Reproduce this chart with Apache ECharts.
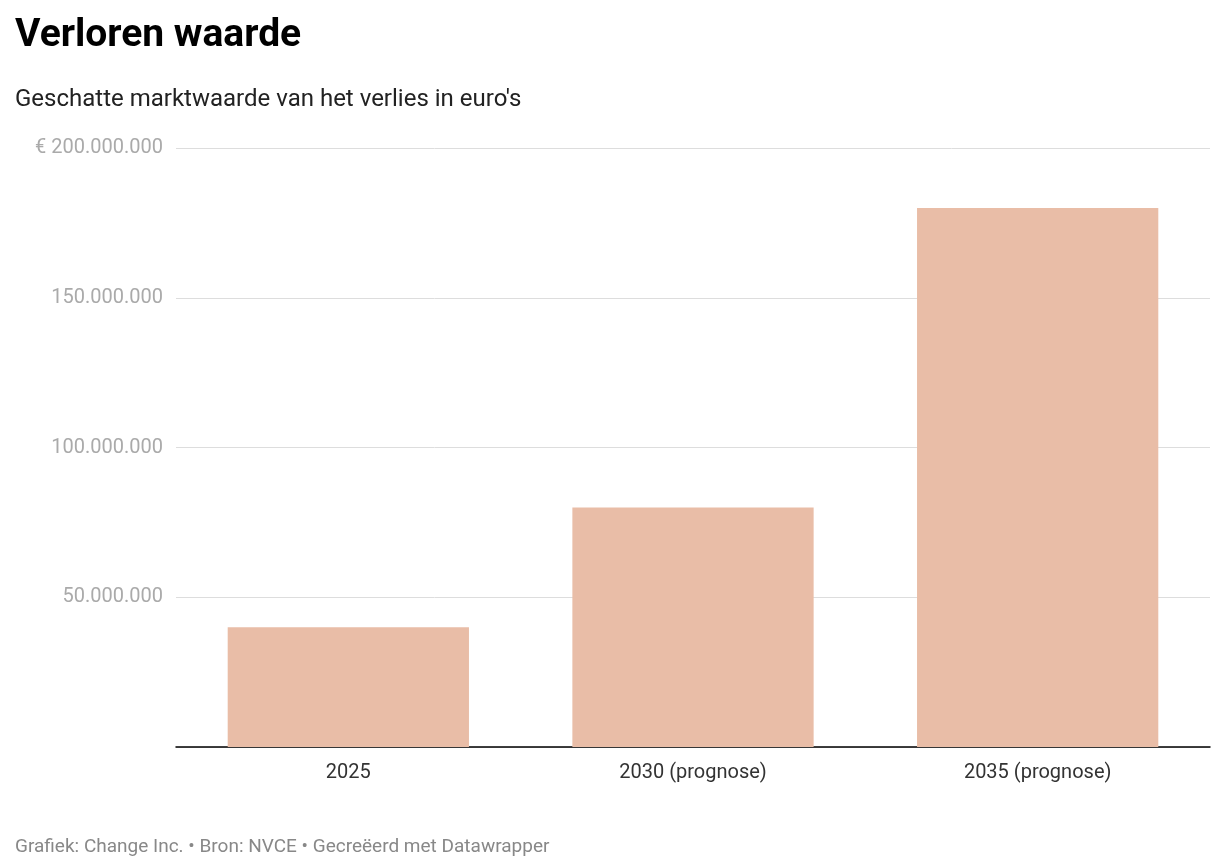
<!DOCTYPE html>
<html>
<head>
<meta charset="utf-8">
<script src="https://cdn.jsdelivr.net/npm/echarts@6/dist/echarts.min.js"></script>
<style>
  html, body { margin: 0; padding: 0; background: #fff; }
  #chart { width: 1220px; height: 868px; }
</style>
</head>
<body>
<div id="chart"></div>
<script>
const categories = ['2025', '2030 (prognose)', '2035 (prognose)'];
const values = [40000000, 80000000, 180000000];
const yTicks = [0, 50000000, 100000000, 150000000, 200000000];

function fmt(v) {
    if (v === 0) return '';
    const s = String(v).replace(/\B(?=(\d{3})+(?!\d))/g, '.');
    return v === yTicks[yTicks.length - 1] ? '€ ' + s : s;
}

const chart = echarts.init(document.getElementById('chart'));
chart.setOption({
    animation: false,
    textStyle: {fontFamily: 'Roboto'},
    title: [
        {text: 'Verloren waarde', left: 10, top: 12,
            textStyle: {fontSize: 39, fontWeight: 'bold', color: '#000', fontFamily: 'Roboto'}},
        {text: "Geschatte marktwaarde van het verlies in euro's", left: 10, top: 83,
            textStyle: {fontSize: 24, fontWeight: 'normal', color: '#222', fontFamily: 'Roboto'}},
        {text: 'Grafiek: Change Inc. • Bron: NVCE • Gecreëerd met Datawrapper', left: 10, top: 833,
            textStyle: {fontSize: 19, fontWeight: 'normal', color: '#888', fontFamily: 'Roboto'}},
    ],
    grid: {left: 176, right: 10, top: 148, bottom: 121, containLabel: false},
    xAxis: {
        type: 'category',
        data: categories,
        axisLine: {lineStyle: {color: '#000', width: 1.5}},
        axisTick: {show: false},
        axisLabel: {fontSize: 20, color: '#333', margin: 16},
    },
    yAxis: {
        type: 'value',
        min: 0, max: 200000000, interval: 50000000,
        splitLine: {lineStyle: {color: '#ddd'}},
        axisLabel: {fontSize: 20, color: '#aaa', margin: 13, formatter: fmt},
    },
    series: [{
        type: 'bar',
        data: values,
        barWidth: '70%',
        itemStyle: {color: '#e9bda7'},
    }],
});
</script>
</body>
</html>
